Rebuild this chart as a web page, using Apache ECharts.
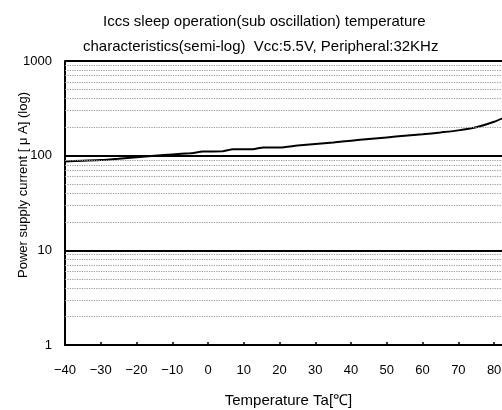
<!DOCTYPE html>
<html>
<head>
<meta charset="utf-8">
<script src="https://cdn.jsdelivr.net/npm/echarts@6/dist/echarts.min.js"></script>
<style>html,body{margin:0;padding:0;background:#fff;}#chart{width:502px;height:410px;}</style>
</head>
<body>
<div id="chart"></div>
<script>
const titleLine1 = 'Iccs sleep operation(sub oscillation) temperature';
const titleLine2 = 'characteristics(semi-log)  Vcc:5.5V, Peripheral:32KHz';
const xAxisName = 'Temperature Ta[\u2103]';
const yAxisName = 'Power supply current [ \u03bc A] (log)';
const temps =   [-40, -35, -30, -25, -20, -15, -10, -5, -4, -1.5, 4, 7, 12.5, 15.5, 20, 25, 30, 35, 40, 45, 50, 55, 60, 65, 70, 75, 80, 85];
const current = [87, 88.5, 90, 93, 96.5, 100, 103, 106, 107, 110.5, 111, 117, 117, 122, 122, 128, 133, 138, 144, 150, 156, 162, 168, 176, 185, 200, 228, 275];
const minorLines = [2,3,4,5,6,7,8,9,20,30,40,50,60,70,80,90,200,300,400,500,600,700,800,900];

const font = '"Liberation Sans", Arial, sans-serif';
const chart = echarts.init(document.getElementById('chart'));
chart.setOption({
  animation: false,
  backgroundColor: '#fff',
  textStyle: { fontFamily: font },
  title: [
    { text: titleLine1, left: 98, top: 9, textStyle: { fontSize: 15, fontWeight: 'normal', color: '#000', fontFamily: font } },
    { text: titleLine2, left: 78, top: 34, textStyle: { fontSize: 15, fontWeight: 'normal', color: '#000', fontFamily: font } }
  ],
  grid: { left: 65, top: 61, right: -10, bottom: 65, containLabel: false, outerBoundsMode: 'none' },
  xAxis: {
    type: 'value', min: -40, max: 85, interval: 10,
    name: xAxisName, nameLocation: 'middle', nameGap: 48, nameMoveOverlap: false,
    nameTextStyle: { fontSize: 15, color: '#000', fontFamily: font },
    axisLine: { onZero: false, lineStyle: { color: '#000', width: 2 } },
    axisTick: { inside: true, length: 3, lineStyle: { color: '#000', width: 1.5 } },
    axisLabel: { color: '#000', fontSize: 13, margin: 19, showMaxLabel: false,
      formatter: v => (v < 0 ? '\u2212' + Math.abs(v) : String(v)) },
    splitLine: { show: false }
  },
  yAxis: {
    type: 'log', logBase: 10, min: 1, max: 1000,
    name: yAxisName, nameLocation: 'middle', nameGap: 35, nameRotate: 90, nameMoveOverlap: false,
    nameTextStyle: { fontSize: 13, color: '#000', fontFamily: font, padding: [0, 0, 0, 36] },
    axisLine: { onZero: false, lineStyle: { color: '#000', width: 2 } },
    axisTick: { show: false },
    axisLabel: { color: '#000', fontSize: 13, margin: 13, formatter: v => String(v) },
    splitLine: { show: true, lineStyle: { color: '#000', width: 2 } }
  },
  series: [{
    type: 'line',
    data: temps.map((t, i) => [t, current[i]]),
    showSymbol: false,
    smooth: 0.2,
    lineStyle: { color: '#000', width: 2 },
    markLine: {
      silent: true, symbol: 'none', label: { show: false },
      lineStyle: { color: '#999', type: 'dotted', width: 1.2 },
      data: minorLines.map(v => ({ yAxis: v }))
    }
  }]
});
</script>
</body>
</html>
